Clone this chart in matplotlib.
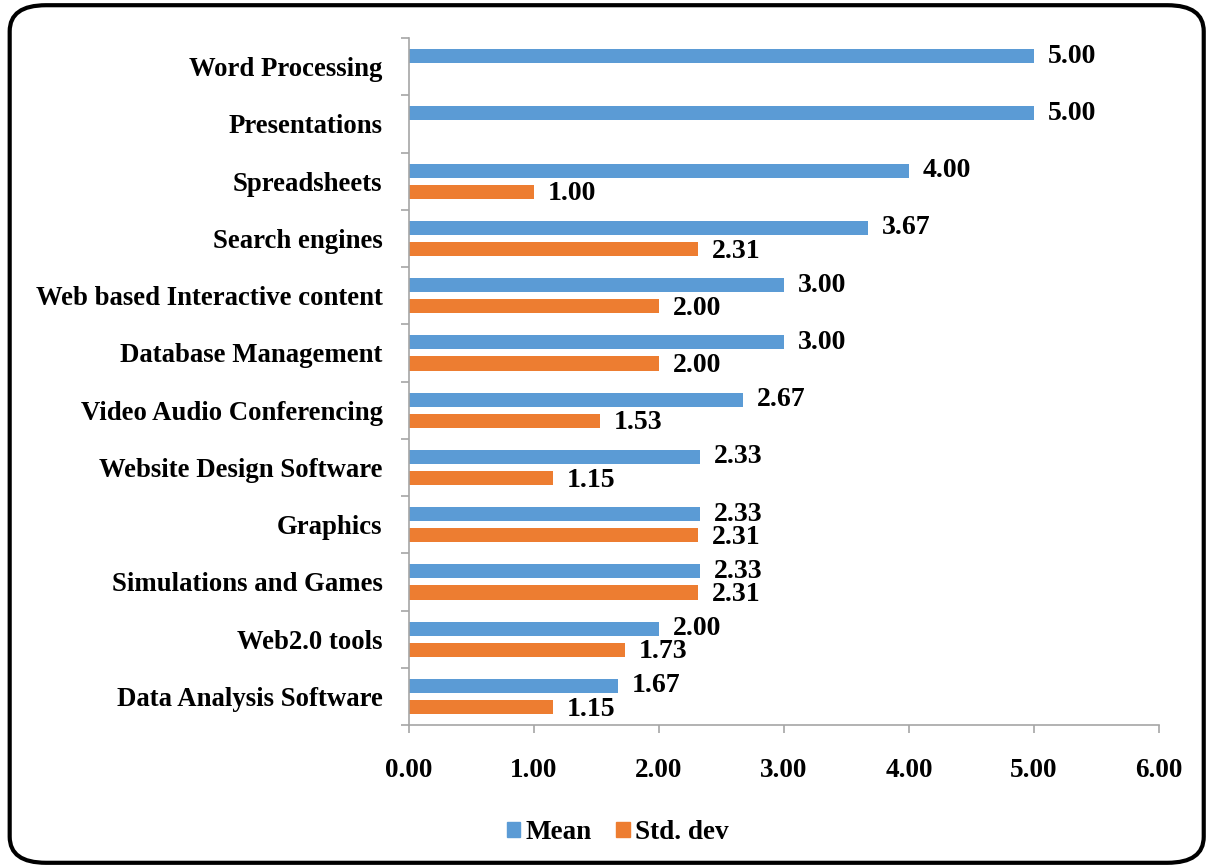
import matplotlib.pyplot as plt
from matplotlib.patches import FancyBboxPatch, Patch
import numpy as np

# categories top to bottom
categories = ['Word Processing', 'Presentations', 'Spreadsheets', 'Search engines',
              'Web based Interactive content', 'Database Management',
              'Video Audio Conferencing', 'Website Design Software', 'Graphics',
              'Simulations and Games', 'Web2.0 tools', 'Data Analysis Software']
mean_vals = [5.00, 5.00, 4.00, 3.67, 3.00, 3.00, 2.67, 2.33, 2.33, 2.33, 2.00, 1.67]
std_vals = [0.00, 0.00, 1.00, 2.31, 2.00, 2.00, 1.53, 1.15, 2.31, 2.31, 1.73, 1.15]
x_ticks = [0, 1, 2, 3, 4, 5, 6]

blue = '#5B9BD5'
orange = '#ED7D31'
axis_grey = '#A6A6A6'

plt.rcParams['font.family'] = ['Liberation Serif', 'DejaVu Serif']
plt.rcParams['font.weight'] = 'bold'

fig = plt.figure(figsize=(12.11, 8.68), dpi=100)
ax = fig.add_axes([0.3377, 0.1647, 0.6193, 0.7915])

y = np.arange(len(categories))
h = 0.245
off = 0.185
ax.barh(y - off, mean_vals, height=h, color=blue, label='Mean')
ax.barh(y + off, std_vals, height=h, color=orange, label='Std. dev')

# value labels
for i in range(len(categories)):
    ax.annotate('%.2f' % mean_vals[i], xy=(mean_vals[i], y[i] - off),
                xytext=(10, 0), textcoords='offset points',
                ha='left', va='center', fontsize=20, fontweight='bold')
    if std_vals[i] > 0:
        ax.annotate('%.2f' % std_vals[i], xy=(std_vals[i], y[i] + off),
                    xytext=(10, -1.5), textcoords='offset points',
                    ha='left', va='center', fontsize=20, fontweight='bold')

ax.set_xlim(0, 6)
ax.set_ylim(len(categories) - 0.5, -0.5)
ax.set_xticks(x_ticks)
ax.set_xticklabels(['%.2f' % t for t in x_ticks], fontsize=19.5, fontweight='bold')
ax.set_yticks(y)
ax.set_yticklabels(categories, fontsize=19.3, fontweight='bold')
ax.set_yticks(np.arange(len(categories) + 1) - 0.5, minor=True)
ax.tick_params(axis='y', which='major', length=0, pad=19)
ax.tick_params(axis='y', which='minor', length=6, color=axis_grey, width=1.2)
ax.tick_params(axis='x', which='major', length=6, color=axis_grey, width=1.2, pad=18)

for side in ['top', 'right']:
    ax.spines[side].set_visible(False)
for side in ['left', 'bottom']:
    ax.spines[side].set_color(axis_grey)
    ax.spines[side].set_linewidth(1.2)

# legend
handles = [Patch(color=blue, label='Mean'), Patch(color=orange, label='Std. dev')]
fig.legend(handles=handles, loc='center', bbox_to_anchor=(0.51, 0.041), ncol=2,
           frameon=False, prop={'size': 19.5, 'weight': 'bold'},
           handlelength=0.5, handleheight=0.5, handletextpad=0.2, columnspacing=0.9)

# rounded outer border
border = FancyBboxPatch((0.008, 0.006), 0.986, 0.988, transform=fig.transFigure,
                        boxstyle='round,pad=0,rounding_size=0.03',
                        fill=False, edgecolor='black', linewidth=3)
fig.patches.append(border)

plt.savefig('out.png', dpi=100)
